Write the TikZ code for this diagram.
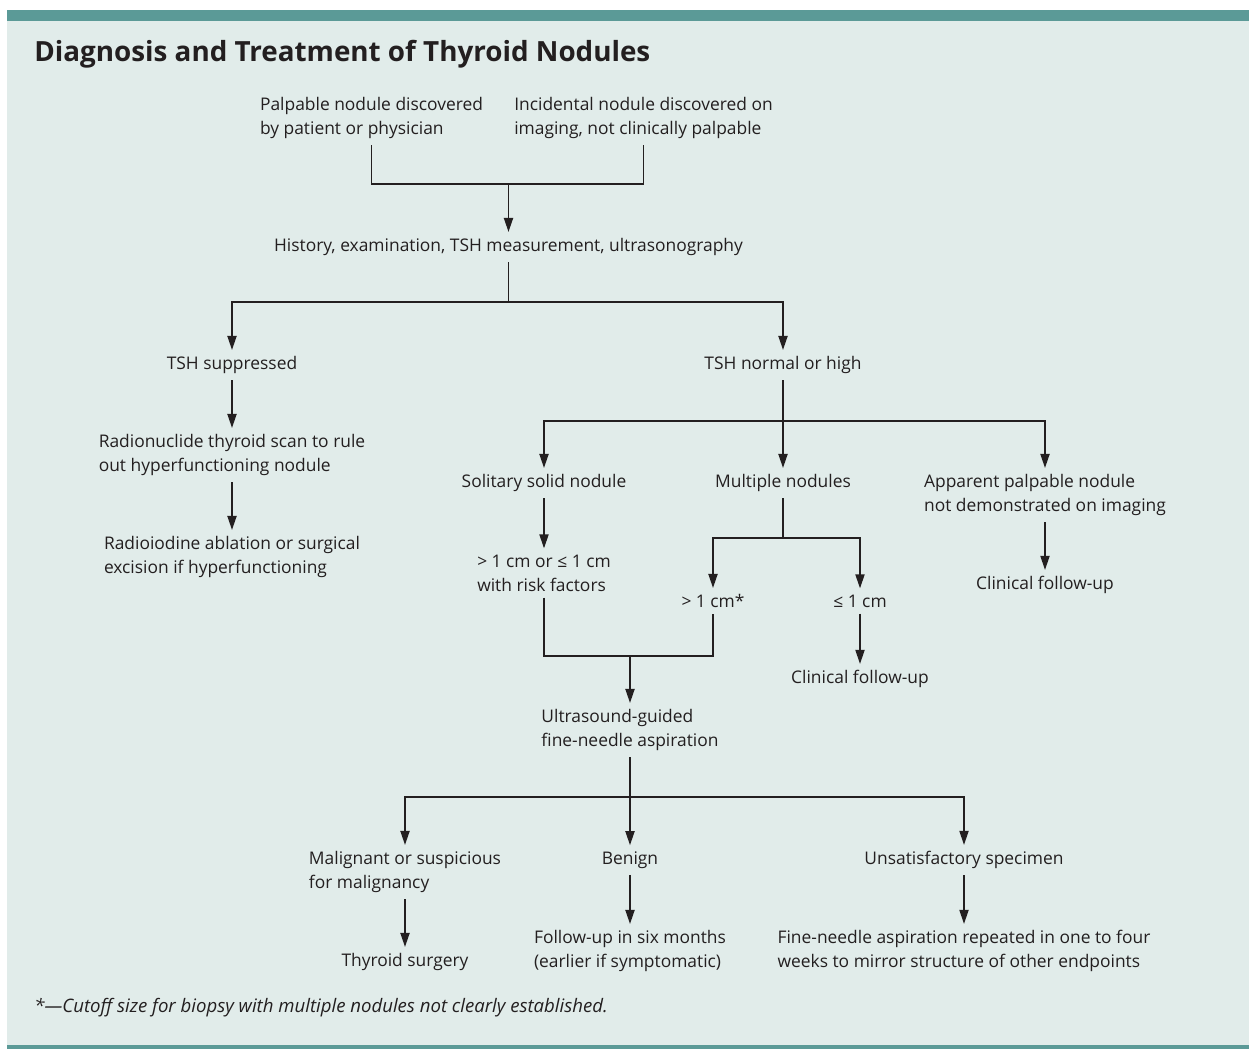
\documentclass[tikz,border=0pt]{standalone}
\usepackage{fontspec}
\usepackage{tikz}
\usetikzlibrary{arrows.meta}
\newfontfamily\figfont{Open Sans}
\definecolor{barcol}{HTML}{5B9A97}
\definecolor{bgcol}{HTML}{E1ECEA}
\definecolor{inkcol}{HTML}{231F20}

\begin{document}
\begin{tikzpicture}[x=0.5pt, y=-0.5pt,
		node_style/.style={inner sep=3pt,yshift=-1pt,text=inkcol,font=\figfont\fontsize{8.7}{12}\selectfont},
		two_style/.style={node_style,align=left},
		edge_style/.style={draw=inkcol,line width=0.7pt},
		arrow_style/.style={edge_style,-{Triangle[length=7pt,width=4.6pt]}}]

		\useasboundingbox (0,0) rectangle (1249,1049);
		\fill[bgcol] (7,21) rectangle (1249,1045);
		\fill[barcol] (7,10) rectangle (1249,21);
		\fill[barcol] (7,1045) rectangle (1249,1049);

		\node[anchor=west,inner sep=0pt,text=inkcol,font=\figfont\bfseries\fontsize{13.9}{16}\selectfont] (t0) at (34,54) {Diagnosis and Treatment of Thyroid Nodules};

		\node[two_style] (n0) at (371.5,116)  {Palpable nodule discovered\\by patient or physician};
		\node[two_style] (n1) at (643.5,116)  {Incidental nodule discovered on\\imaging, not clinically palpable};
		\node[node_style] (n2) at (508.5,245)  {History, examination, TSH measurement, ultrasonography};
		\node[node_style] (n3) at (232,363)  {TSH suppressed};
		\node[node_style] (n4) at (783,363)  {TSH normal or high};
		\node[two_style] (n5) at (232,453)  {Radionuclide thyroid scan to rule\\out hyperfunctioning nodule};
		\node[two_style] (n6) at (232,555)  {Radioiodine ablation or surgical\\excision if hyperfunctioning};
		\node[node_style] (n7) at (544,481)  {Solitary solid nodule};
		\node[node_style] (n8) at (783,481)  {Multiple nodules};
		\node[two_style] (n9) at (1045,493)  {Apparent palpable nodule\\not demonstrated on imaging};
		\node[node_style] (n10) at (1045,583)  {Clinical follow-up};
		\node[two_style] (n11) at (544,571)  {> 1 cm or ≤ 1 cm\\with risk factors};
		\node[node_style] (n12) at (713,599)  {> 1 cm*};
		\node[node_style] (n13) at (860,599)  {≤ 1 cm};
		\node[node_style] (n14) at (860,677)  {Clinical follow-up};
		\node[two_style] (n15) at (630,728)  {Ultrasound-guided\\fine-needle aspiration};
		\node[two_style] (n16) at (405,870)  {Malignant or suspicious\\for malignancy};
		\node[node_style] (n17) at (630,858)  {Benign};
		\node[node_style] (n18) at (964,858)  {Unsatisfactory specimen};
		\node[node_style] (n19) at (405,960)  {Thyroid surgery};
		\node[two_style] (n20) at (630,949)  {Follow-up in six months\\(earlier if symptomatic)};
		\node[two_style] (n21) at (964,949)  {Fine-needle aspiration repeated in one to four\\weeks to mirror structure of other endpoints};

		\node[anchor=west,inner sep=0pt,text=inkcol,font=\figfont\itshape\fontsize{9.3}{12}\selectfont] (f0) at (34,1008) {*—Cutoff size for biopsy with multiple nodules not clearly established.};

		\coordinate (c0) at (508.5,184);
		\coordinate (c1) at (508.5,302);
		\coordinate (c2) at (783,421);
		\coordinate (c3) at (783,538);
		\coordinate (c4) at (630,656);
		\coordinate (c5) at (630,797);

		\draw[edge_style]  (n0.south) |- (c0) -| (n1.south);
		\draw[arrow_style]  (c0) -- (n2);
		\draw[edge_style]  (n2) -- (c1);
		\draw[arrow_style]  (c1) -| (n3);
		\draw[arrow_style]  (c1) -| (n4);
		\draw[arrow_style]  (n3) -- (n5);
		\draw[arrow_style]  (n5) -- (n6);
		\draw[edge_style]  (n4) -- (c2);
		\draw[arrow_style]  (c2) -| (n7);
		\draw[arrow_style]  (c2) -- (n8);
		\draw[arrow_style]  (c2) -| (n9);
		\draw[arrow_style]  (n9) -- (n10);
		\draw[arrow_style]  (n7) -- (n11);
		\draw[edge_style]  (n8) -- (c3);
		\draw[arrow_style]  (c3) -| (n12);
		\draw[arrow_style]  (c3) -| (n13);
		\draw[arrow_style]  (n13) -- (n14);
		\draw[edge_style]  (n11.south) |- (c4) -| (n12.south);
		\draw[arrow_style]  (c4) -- (n15);
		\draw[edge_style]  (n15) -- (c5);
		\draw[arrow_style]  (c5) -| (n16);
		\draw[arrow_style]  (c5) -- (n17);
		\draw[arrow_style]  (c5) -| (n18);
		\draw[arrow_style]  (n16) -- (n19);
		\draw[arrow_style]  (n17) -- (n20);
		\draw[arrow_style]  (n18) -- (n21);
\end{tikzpicture}
\end{document}
